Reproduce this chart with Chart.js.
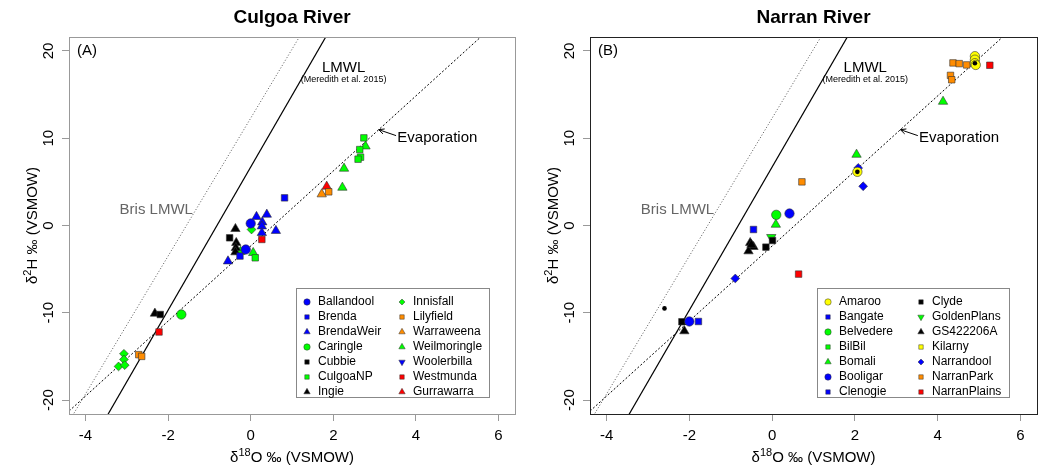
<!DOCTYPE html>
<html>
<head>
<meta charset="utf-8">
<script src="https://cdn.jsdelivr.net/npm/chart.js@4/dist/chart.umd.min.js"></script>
<style>
body { margin: 0; background: #fff; }
.panel { position: absolute; top: 0; width: 524px; height: 467px; }
</style>
</head>
<body>
<div class="panel" style="left:0"><canvas id="culgoa"></canvas></div>
<div class="panel" style="left:524px"><canvas id="narran"></canvas></div>
<script>
// axis ticks and ranges
const xTicks = [-4, -2, 0, 2, 4, 6];
const yTicks = [-20, -10, 0, 10, 20];
const xRange = [-4.4, 6.4];
const yRange = [-21.6, 21.6];

// water lines: [slope, intercept]
const lmwl = [8.2, 6.7];
const brisLmwl = [7.9, 12.3];
const evapLine = [4.3, -2.35];

// Culgoa River sites (d18O / d2H)
const culgoaSites = ['Ballandool', 'Brenda', 'BrendaWeir', 'Caringle', 'Cubbie', 'CulgoaNP', 'Ingie',
    'Innisfall', 'Lilyfield', 'Warraweena', 'Weilmoringle', 'Woolerbilla', 'Westmunda', 'Gurrawarra'];
const culgoaO = [
    [0, -0.12],
    [0.82, -0.26],
    [0.14, 0.39, 0.28, 0.27, 0.27, 0.61, -0.55],
    [-1.68],
    [-0.51, -2.19],
    [0.11, 2.74, 2.64, 2.66, 2.6],
    [-0.37, -0.35, -0.36, -0.37, -2.32],
    [0.02, -3.07, -3.07, -3.2, -3.05],
    [1.89, -2.71, -2.64],
    [1.72],
    [-0.25, 0.06, 2.26, 2.22, 2.78],
    [],
    [0.27, -2.22],
    [1.84]
];
const culgoaH = [
    [0.23, -2.75],
    [3.17, -3.5],
    [1.0, 1.26, 0.38, -0.08, -0.84, -0.6, -4.09],
    [-10.2],
    [-1.41, -10.2],
    [-3.7, 10.04, 8.7, 7.83, 7.6],
    [-0.38, -1.98, -2.56, -3.05, -10.08],
    [-0.46, -14.7, -15.35, -16.15, -16.0],
    [3.86, -14.8, -15.0],
    [3.59],
    [-3.0, -3.13, 6.53, 4.35, 9.08],
    [],
    [-1.6, -12.2],
    [4.47]
];
const culgoaColors = ['#0000ff', '#0000ff', '#0000ff', '#00ff00', '#000000', '#00ff00', '#000000',
    '#00ff00', '#ff8c00', '#ff8c00', '#00ff00', '#0000ff', '#ff0000', '#ff0000'];
const culgoaShapes = ['circle', 'square', 'up', 'circle', 'square', 'square', 'up',
    'diamond', 'square', 'up', 'up', 'down', 'square', 'up'];

// Narran River sites
const narranSites = ['Amaroo', 'Bangate', 'Belvedere', 'BilBil', 'Bomali', 'Booligar', 'Clenogie',
    'Clyde', 'GoldenPlans', 'GS422206A', 'Kilarny', 'Narrandool', 'NarranPark', 'NarranPlains'];
const narranO = [
    [4.9, 4.9, 4.9, 4.92, 2.06],
    [-0.45],
    [0.1],
    [],
    [0.09, 4.13, 2.04],
    [0.42, -2.0],
    [-1.78],
    [0.01, -0.15, -2.18],
    [-0.02],
    [-0.53, -0.45, -0.57, -0.5, -2.12],
    [],
    [-0.89, 2.08, 2.2],
    [4.37, 4.52, 4.7, 4.31, 4.34, 0.72],
    [0.64, 5.26]
];
const narranH = [
    [19.4, 19.0, 18.6, 18.4, 6.15],
    [-0.46],
    [1.22],
    [],
    [0.11, 14.2, 8.13],
    [1.37, -11.0],
    [-11.0],
    [-1.72, -2.48, -11.03],
    [-1.34],
    [-1.98, -2.44, -2.94, -2.2, -12.1],
    [],
    [-6.07, 6.6, 4.5],
    [18.63, 18.55, 18.4, 17.2, 16.7, 5.0],
    [-5.57, 18.36]
];
const narranColors = ['#ffff00', '#0000ff', '#00ff00', '#00ff00', '#00ff00', '#0000ff', '#0000ff',
    '#000000', '#00ff00', '#000000', '#ffff00', '#0000ff', '#ff8c00', '#ff0000'];
const narranShapes = ['circle', 'square', 'circle', 'square', 'up', 'circle', 'square',
    'square', 'down', 'up', 'square', 'diamond', 'square', 'square'];
// small unlabelled dots
const narranDotO = [-2.6, 4.9, 2.06];
const narranDotH = [-9.5, 18.6, 6.15];

const FONT = "'Liberation Sans', Arial, sans-serif";
Chart.defaults.font.family = FONT;

const shapeStyle = {
    circle: { pointStyle: 'circle', rotation: 0, radius: 4.7 },
    square: { pointStyle: 'rect', rotation: 0, radius: 4.6 },
    up: { pointStyle: 'triangle', rotation: 0, radius: 5.4 },
    down: { pointStyle: 'triangle', rotation: 180, radius: 5.4 },
    diamond: { pointStyle: 'rectRot', rotation: 0, radius: 4.4 }
};

function lineData(p) {
    return [
        { x: xRange[0] - 1, y: p[0] * (xRange[0] - 1) + p[1] },
        { x: xRange[1] + 1, y: p[0] * (xRange[1] + 1) + p[1] }
    ];
}

// box, titles, labels, arrow
const decorPlugin = {
    id: 'decor',
    afterDraw(chart, args, o) {
        const ctx = chart.ctx;
        const a = chart.chartArea;
        const sx = chart.scales.x, sy = chart.scales.y;
        const px = v => sx.getPixelForValue(v), py = v => sy.getPixelForValue(v);
        ctx.save();
        ctx.strokeStyle = o.boxColor;
        ctx.lineWidth = 1;
        ctx.strokeRect(Math.round(a.left) + 0.5, Math.round(a.top) + 0.5,
            Math.round(a.right - a.left), Math.round(a.bottom - a.top));

        ctx.fillStyle = '#000';
        ctx.textBaseline = 'middle';
        ctx.textAlign = 'center';
        ctx.font = 'bold 19px ' + FONT;
        ctx.fillText(o.title, (a.left + a.right) / 2, 18);

        ctx.font = '15px ' + FONT;
        ctx.textAlign = 'left';
        ctx.fillText(o.tag, a.left + 8, a.top + 14);

        ctx.textAlign = 'center';
        ctx.fillText('LMWL', px(2.25), py(18.1));
        ctx.font = '9px ' + FONT;
        ctx.fillText('(Meredith et al. 2015)', px(2.25), py(16.7));

        ctx.font = '15px ' + FONT;
        ctx.textAlign = 'left';
        ctx.fillText('Evaporation', px(3.55), py(10.05));
        ctx.fillStyle = '#666';
        ctx.textAlign = 'right';
        ctx.fillText('Bris LMWL', px(-1.4), py(1.83));

        // arrow to evaporation line
        const x1 = px(3.52), y1 = py(10.3), x2 = px(3.1), y2 = py(10.98);
        const ang = Math.atan2(y2 - y1, x2 - x1);
        ctx.strokeStyle = '#000';
        ctx.beginPath();
        ctx.moveTo(x1, y1); ctx.lineTo(x2, y2);
        ctx.moveTo(x2 - 6 * Math.cos(ang - 0.45), y2 - 6 * Math.sin(ang - 0.45));
        ctx.lineTo(x2, y2);
        ctx.lineTo(x2 - 6 * Math.cos(ang + 0.45), y2 - 6 * Math.sin(ang + 0.45));
        ctx.stroke();

        // axis titles with superscripts
        ctx.fillStyle = '#000';
        drawSup(ctx, ['\u03b4', '18', 'O \u2030 (VSMOW)'], (a.left + a.right) / 2, 458, 0);
        drawSup(ctx, ['\u03b4', '2', 'H \u2030 (VSMOW)'], a.left - 36, (a.top + a.bottom) / 2, -Math.PI / 2);
        ctx.restore();
    }
};

function drawSup(ctx, parts, cx, cy, rot) {
    ctx.save();
    ctx.translate(cx, cy);
    ctx.rotate(rot);
    ctx.textAlign = 'left';
    ctx.textBaseline = 'middle';
    const big = '15px ' + FONT, small = '11px ' + FONT;
    ctx.font = big; const w0 = ctx.measureText(parts[0]).width;
    ctx.font = small; const w1 = ctx.measureText(parts[1]).width;
    ctx.font = big; const w2 = ctx.measureText(parts[2]).width;
    let x = -(w0 + w1 + w2) / 2;
    ctx.font = big; ctx.fillText(parts[0], x, 0); x += w0;
    ctx.font = small; ctx.fillText(parts[1], x, -5); x += w1;
    ctx.font = big; ctx.fillText(parts[2], x, 0);
    ctx.restore();
}

// two-column legend inside the plot
const legendPlugin = {
    id: 'siteLegend',
    afterDatasetsDraw(chart, args, o) {
        const ctx = chart.ctx;
        ctx.save();
        ctx.fillStyle = '#fff';
        ctx.fillRect(o.left, o.top, o.width, o.height);
        ctx.strokeStyle = '#888';
        ctx.lineWidth = 1;
        ctx.strokeRect(o.left + 0.5, o.top + 0.5, o.width, o.height);
        ctx.font = '12px ' + FONT;
        ctx.textBaseline = 'middle';
        ctx.textAlign = 'left';
        o.sites.forEach((name, i) => {
            const col = Math.floor(i / 7), row = i % 7;
            const x = o.left + (col ? o.col2 : o.col1);
            const y = o.top + 14 + row * 15;
            const s = shapeStyle[o.shapes[i]];
            ctx.fillStyle = o.colors[i];
            ctx.strokeStyle = '#333';
            ctx.lineWidth = 0.5;
            Chart.helpers.drawPoint(ctx, { pointStyle: s.pointStyle, rotation: s.rotation, radius: s.radius * 0.68, borderWidth: 0.5 }, x, y);
            ctx.fillStyle = '#000';
            ctx.fillText(name, x + 11, y);
        });
        ctx.restore();
    }
};

function makeChart(id, p) {
    const datasets = p.sites.map((name, i) => {
        const s = shapeStyle[p.shapes[i]];
        return {
            label: name,
            data: p.xs[i].map((v, j) => ({ x: v, y: p.ys[i][j] })),
            pointStyle: s.pointStyle,
            pointRotation: s.rotation,
            pointRadius: s.radius,
            backgroundColor: p.colors[i],
            borderColor: '#333',
            borderWidth: 0.6,
            order: 1
        };
    });
    if (p.dotX) {
        datasets.unshift({
            label: 'dots',
            data: p.dotX.map((v, j) => ({ x: v, y: p.dotY[j] })),
            pointStyle: 'circle', pointRadius: 2.3,
            backgroundColor: '#000', borderColor: '#000', borderWidth: 0, order: 0
        });
    }
    datasets.push(
        { label: 'LMWL', data: lineData(lmwl), showLine: true, pointRadius: 0, borderColor: '#000', borderWidth: 1.2, order: 5, clip: 0 },
        { label: 'Bris LMWL', data: lineData(brisLmwl), showLine: true, pointRadius: 0, borderColor: '#555', borderWidth: 1, borderDash: [1, 2], order: 5, clip: 0 },
        { label: 'Evaporation', data: lineData(evapLine), showLine: true, pointRadius: 0, borderColor: '#000', borderWidth: 1, borderDash: [2, 2], order: 5, clip: 0 }
    );

    return new Chart(document.getElementById(id), {
        type: 'scatter',
        data: { datasets },
        options: {
            responsive: true,
            maintainAspectRatio: false,
            animation: false,
            devicePixelRatio: 1,
            layout: { padding: { top: 37, right: p.padRight, left: 0, bottom: 0 } },
            plugins: {
                legend: { display: false },
                tooltip: { enabled: false },
                decor: { title: p.title, tag: p.tag, boxColor: p.boxColor },
                siteLegend: { sites: p.sites, colors: p.colors, shapes: p.shapes, left: p.legend[0], top: p.legend[1], width: p.legend[2], height: p.legend[3], col1: 11, col2: p.legend[4] }
            },
            scales: {
                x: {
                    type: 'linear', min: xRange[0], max: xRange[1],
                    afterBuildTicks: s => { s.ticks = xTicks.map(v => ({ value: v })); },
                    afterFit: s => { s.height = 53; },
                    ticks: { font: { size: 15 }, color: '#000', padding: 6, maxRotation: 0, autoSkip: false },
                    grid: { drawOnChartArea: false, tickLength: 7, tickColor: '#999', color: '#999' },
                    border: { display: false }
                },
                y: {
                    type: 'linear', min: yRange[0], max: yRange[1],
                    afterBuildTicks: s => { s.ticks = yTicks.map(v => ({ value: v })); },
                    afterFit: s => { s.width = p.yWidth; },
                    ticks: { font: { size: 15 }, color: '#000', padding: 2, minRotation: 90, maxRotation: 90, crossAlign: 'center', autoSkip: false },
                    grid: { drawOnChartArea: false, tickLength: 7, tickColor: '#999', color: '#999' },
                    border: { display: false }
                }
            }
        },
        plugins: [legendPlugin, decorPlugin]
    });
}

makeChart('culgoa', {
    sites: culgoaSites, xs: culgoaO, ys: culgoaH, colors: culgoaColors, shapes: culgoaShapes,
    title: 'Culgoa River', tag: '(A)', boxColor: '#999', yWidth: 69, padRight: 9,
    legend: [296, 288, 193, 109, 106]
});
makeChart('narran', {
    sites: narranSites, xs: narranO, ys: narranH, colors: narranColors, shapes: narranShapes,
    dotX: narranDotO, dotY: narranDotH,
    title: 'Narran River', tag: '(B)', boxColor: '#222', yWidth: 66, padRight: 11,
    legend: [293, 288, 192, 109, 104]
});
</script>
</body>
</html>
